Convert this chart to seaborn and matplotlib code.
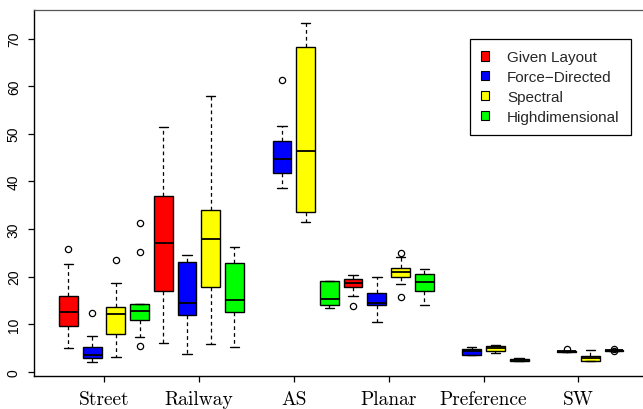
import matplotlib
matplotlib.use("Agg")
import matplotlib.pyplot as plt
from matplotlib.patches import Patch
import seaborn as sns
import pandas as pd

# ---- data ----
graphs = ["Street", "Railway", "AS", "Planar", "Preference", "SW"]
methods = ["Given Layout", "Force\u2212Directed", "Spectral", "Highdimensional"]
colors = ["#FF0000", "#0000FF", "#FFFF00", "#00FF00"]

given_layout = [
    [4.9, 4.9, 9.5, 12.55, 12.55, 15.9, 15.9, 22.7, 25.8],
    [6.0, 6.0, 16.9, 27.1, 27.1, 36.9, 36.9, 51.4, 51.4],
    [],
    [13.8, 16.0, 17.7, 18.65, 18.65, 19.4, 19.4, 20.4, 20.4],
    [],
    [],
]
force_directed = [
    [2.0, 2.0, 2.8, 3.55, 3.55, 5.1, 5.1, 7.6, 12.3],
    [3.7, 3.7, 11.9, 14.4, 14.4, 23.0, 23.0, 24.5, 24.5],
    [38.5, 38.5, 41.8, 44.7, 44.7, 48.4, 48.4, 51.6, 61.3],
    [10.45, 10.45, 13.95, 14.4, 14.4, 16.5, 16.5, 19.8, 19.8],
    [3.5, 3.5, 3.57, 4.28, 4.28, 4.7, 4.7, 5.1, 5.1],
    [4.15, 4.15, 4.2, 4.28, 4.28, 4.35, 4.35, 4.4, 4.75],
]
spectral = [
    [3.15, 3.15, 7.9, 12.1, 12.1, 13.5, 13.5, 18.65, 23.5],
    [5.8, 5.8, 17.7, 27.8, 27.8, 33.9, 33.9, 58.0, 58.0],
    [31.5, 31.5, 33.5, 46.3, 46.3, 68.3, 68.3, 73.2, 73.2],
    [15.7, 18.4, 20.0, 20.9, 20.9, 21.7, 21.7, 24.0, 24.9],
    [3.87, 3.87, 4.28, 4.92, 4.92, 5.4, 5.4, 5.68, 5.68],
    [2.25, 2.25, 2.3, 2.88, 2.88, 3.37, 3.37, 4.55, 4.55],
]
highdimensional = [
    [5.47, 7.36, 10.8, 12.8, 12.8, 14.15, 14.15, 25.1, 31.3],
    [5.1, 5.1, 12.6, 15.0, 15.0, 22.85, 22.85, 26.15, 26.15],
    [13.4, 13.4, 14.1, 15.2, 15.2, 19.0, 19.0, 19.0, 19.0],
    [14.0, 14.0, 17.0, 18.8, 18.8, 20.5, 20.5, 21.6, 21.6],
    [2.25, 2.25, 2.3, 2.5, 2.5, 2.7, 2.7, 2.8, 2.8],
    [4.25, 4.4, 4.45, 4.5, 4.5, 4.55, 4.55, 4.6, 4.78],
]
yticks = [0, 10, 20, 30, 40, 50, 60, 70]

rows = []
for m, series in zip(methods, [given_layout, force_directed, spectral, highdimensional]):
    for g, vals in zip(graphs, series):
        for v in vals:
            rows.append({"graph": g, "method": m, "value": v})
df = pd.DataFrame(rows)

# ---- style ----
sns.set_style("ticks")
plt.rcParams["font.family"] = ["Liberation Sans", "DejaVu Sans"]

fig = plt.figure(figsize=(6.43, 4.10), dpi=100)
ax = fig.add_axes([34 / 643, 1 - 376.7 / 410, 1 - 34 / 643, (376.7 - 10.5) / 410])

sns.boxplot(
    data=df, x="graph", y="value", hue="method",
    order=graphs, hue_order=methods, palette=colors, saturation=1,
    width=1.0, gap=0.21, dodge=True,
    linecolor="black", linewidth=1.0, fliersize=4.5,
    whiskerprops=dict(linestyle=(0, (3, 2.5)), linewidth=0.9),
    capprops=dict(linewidth=1.0),
    medianprops=dict(linewidth=1.3, color="black"),
    flierprops=dict(marker="o", markerfacecolor="none",
                    markeredgecolor="black", markeredgewidth=0.9),
    legend=False, ax=ax,
)

ax.set_xlim(-0.7376, 5.68)
ax.set_ylim(-0.84, 76.1)
ax.set_xlabel("")
ax.set_ylabel("")

ax.set_yticks(yticks)
ax.set_yticklabels([str(t) for t in yticks], rotation=90, va="center",
                   fontsize=10, family="Liberation Sans")
ax.set_xticks(range(len(graphs)))
ax.set_xticklabels(graphs, fontsize=14, family="cmr10")
ax.tick_params(axis="y", length=4.5, width=0.9, direction="out", pad=5, colors="black")
ax.tick_params(axis="x", length=4.5, width=0.9, direction="out", pad=5.5, colors="black")

for s in ["left", "bottom"]:
    ax.spines[s].set_color("black")
    ax.spines[s].set_linewidth(1.0)
ax.spines["top"].set_visible(True)
ax.spines["top"].set_color("#555555")
ax.spines["top"].set_linewidth(0.9)
ax.spines["right"].set_visible(False)

handles = [Patch(facecolor=c, edgecolor="black", linewidth=0.8) for c in colors]
leg = ax.legend(handles, methods, loc="upper right",
                bbox_to_anchor=(631 / 643, 1 - 40 / 410), bbox_transform=fig.transFigure,
                frameon=True, fancybox=False, edgecolor="black", framealpha=1,
                prop={"family": "Liberation Sans", "size": 11},
                handlelength=0.55, handleheight=0.55, handletextpad=1.15,
                borderpad=0.75, labelspacing=0.38, borderaxespad=0)
leg.get_frame().set_linewidth(0.9)

fig.savefig("out.png", dpi=100)
